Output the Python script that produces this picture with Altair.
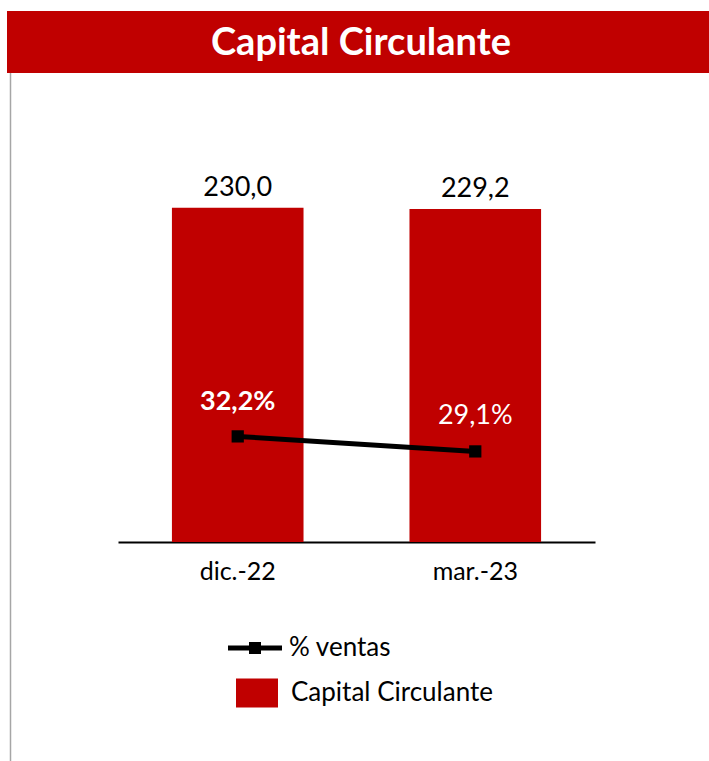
import altair as alt
import pandas as pd

categories = ["dic.-22", "mar.-23"]
capital = [230.0, 229.2]
pct_ventas = [32.2, 29.1]
series_names = ["% ventas", "Capital Circulante"]
series_colors = ["#000000", "#C00000"]
title_text = ["Capital Circulante"]

df = pd.DataFrame({"cat": categories, "capital": capital, "pct": pct_ventas,
                   "s_line": [series_names[0]] * len(categories),
                   "s_bar": [series_names[1]] * len(categories)})
title_df = pd.DataFrame({"t": title_text})

FONT = "Lato"
W, H = 477, 436
LEFT, TOP = 118, 106
PAD = {"left": LEFT, "top": TOP, "right": 709 - LEFT - W, "bottom": 761 - TOP - H}

xenc = alt.X("cat:N", sort=categories, title=None,
             scale=alt.Scale(paddingInner=0.446, paddingOuter=0.227),
             axis=alt.Axis(labelFontSize=25, labelColor="#000000", labelFont=FONT,
                           labelAngle=0, domainColor="#000000", domainWidth=2,
                           ticks=False, tickSize=0, labelPadding=17, grid=False))

ybar = alt.Y("capital:Q", scale=alt.Scale(domain=[0, 300]), axis=None)
yline = alt.Y("pct:Q", scale=alt.Scale(domain=[10.4, 100.4]), axis=None)

leg_common = dict(title=None, orient="none", padding=0, symbolSize=1600,
                  labelFontSize=26, labelFont=FONT, labelColor="#000000",
                  labelOffset=14, labelLimit=500, direction="vertical")

legend_bar = alt.Legend(legendX=237 - LEFT, legendY=567,
                        symbolType="M-1.05,-0.725H1.05V0.725H-1.05Z",
                        symbolStrokeWidth=0, **leg_common)
legend_line = alt.Legend(legendX=235 - LEFT, legendY=522,
                         symbolType="M-1.35,-0.125H1.35V0.125H-1.35Z M-0.3,-0.3H0.3V0.3H-0.3Z",
                         symbolFillColor="#000000", symbolStrokeWidth=0, **leg_common)

base = alt.Chart(df)

bars = base.mark_bar().encode(
    x=xenc, y=ybar,
    fill=alt.Fill("s_bar:N",
                  scale=alt.Scale(domain=[series_names[1]], range=[series_colors[1]]),
                  legend=legend_bar),
)

bar_labels = base.transform_calculate(
    lbl="replace(format(datum.capital, '.1f'), '.', ',')"
).mark_text(fontSize=27, font=FONT, color="#000000", baseline="alphabetic", dy=-12).encode(
    x=xenc, y=ybar, text="lbl:N"
)

line = base.mark_line(strokeWidth=5).encode(
    x=xenc, y=yline,
    stroke=alt.Stroke("s_line:N",
                      scale=alt.Scale(domain=[series_names[0]], range=[series_colors[0]]),
                      legend=legend_line),
)
points = base.mark_point(shape="square", size=150, filled=True, opacity=1,
                         color=series_colors[0]).encode(x=xenc, y=yline)

pct_lbl = "replace(format(datum.pct, '.1f'), '.', ',') + '%'"
pct_bold = base.transform_filter(alt.datum.cat == categories[0]).transform_calculate(
    lbl=pct_lbl
).mark_text(fontSize=27, font=FONT, fontWeight="bold", color="white",
            baseline="alphabetic", dy=-26).encode(x=xenc, y=yline, text="lbl:N")
pct_norm = base.transform_filter(alt.datum.cat == categories[1]).transform_calculate(
    lbl=pct_lbl
).mark_text(fontSize=27, font=FONT, color="white",
            baseline="alphabetic", dy=-27).encode(x=xenc, y=yline, text="lbl:N")

banner = alt.Chart(title_df).mark_rect(color="#C00000").encode(
    x=alt.value(7 - LEFT), x2=alt.value(709 - LEFT), y=alt.value(11 - TOP), y2=alt.value(73 - TOP)
)
title = alt.Chart(title_df).mark_text(fontSize=38, font=FONT, fontWeight="bold",
                                      color="white", baseline="middle", align="center").encode(
    x=alt.value(361 - LEFT), y=alt.value(44 - TOP), text="t:N"
)
border = alt.Chart(title_df).mark_rule(color="#A6A6A6", strokeWidth=1.5).encode(
    x=alt.value(10.5 - LEFT), y=alt.value(73 - TOP), y2=alt.value(761 - TOP)
)

chart = alt.layer(
    border, banner, title, bars, bar_labels, line, points, pct_bold, pct_norm
).resolve_scale(y="independent").properties(
    width=W, height=H, padding=PAD, autosize=alt.AutoSizeParams(type="none"),
    background="white"
).configure(font=FONT).configure_view(strokeWidth=0, stroke="transparent")

chart.save("out.html", embed_options={"renderer": "svg", "actions": False})
